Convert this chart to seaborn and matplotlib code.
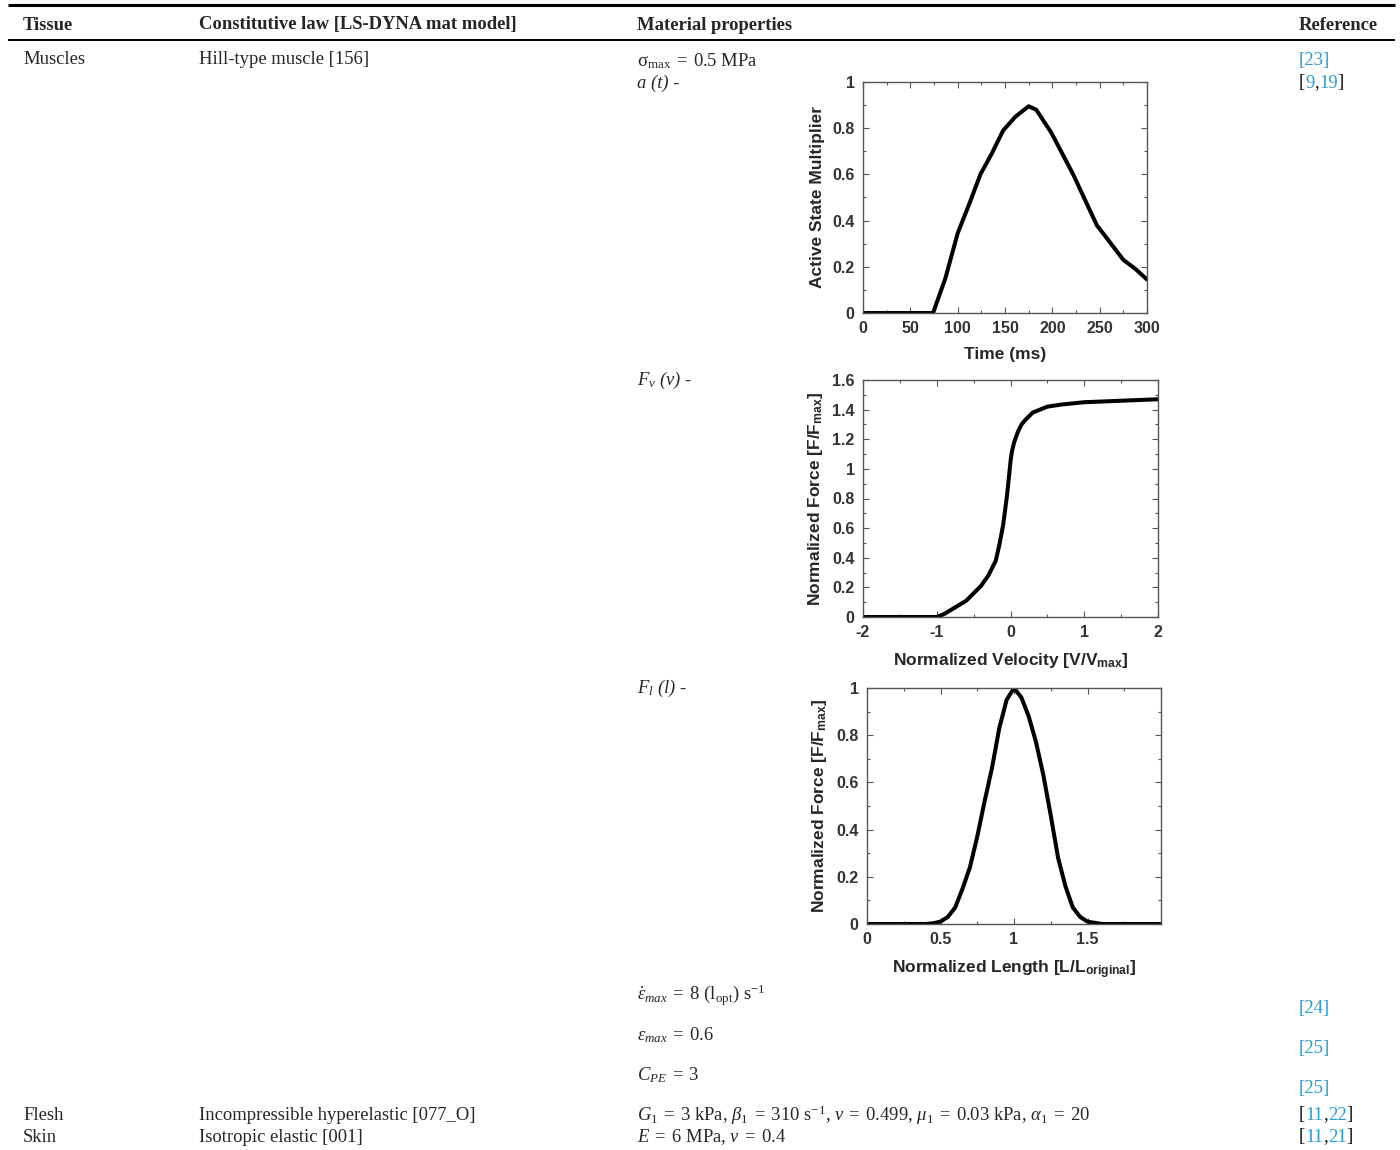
import matplotlib
matplotlib.use("Agg")
import matplotlib.pyplot as plt
from matplotlib.ticker import MultipleLocator
import seaborn as sns

# ── Curve data ───────────────────────────────────────────────────────────────

time_ms      = [0, 25, 50, 74, 87, 100, 113, 124, 136, 148, 161, 175,
                183, 199, 222, 247, 262, 275, 288, 300]
active_state = [0, 0, 0, 0, 0.15, 0.345, 0.48, 0.60, 0.69, 0.79, 0.85, 0.895,
                0.88, 0.78, 0.60, 0.38, 0.30, 0.23, 0.19, 0.145]

velocity = [-2, -1.5, -1.0, -0.9, -0.8, -0.7, -0.6, -0.5, -0.4, -0.3, -0.2,
            -0.15, -0.1, -0.05, -0.02, 0.0, 0.02, 0.05, 0.1, 0.15, 0.2, 0.3,
            0.4, 0.5, 0.7, 1.0, 1.5, 2.0]
force_v  = [0, 0, 0, 0.02, 0.05, 0.08, 0.11, 0.16, 0.21, 0.28, 0.38,
            0.49, 0.62, 0.81, 0.95, 1.05, 1.12, 1.18, 1.25, 1.30, 1.33, 1.38,
            1.40, 1.42, 1.435, 1.45, 1.46, 1.47]

length  = [0, 0.4, 0.45, 0.5, 0.55, 0.6, 0.65, 0.7, 0.75, 0.8, 0.85, 0.9,
           0.95, 1.0, 1.05, 1.1, 1.15, 1.2, 1.25, 1.3, 1.35, 1.4, 1.45,
           1.5, 1.6, 2.0]
force_l = [0, 0, 0.003, 0.01, 0.03, 0.07, 0.15, 0.24, 0.37, 0.52, 0.66, 0.83,
           0.95, 1.0, 0.96, 0.88, 0.77, 0.63, 0.46, 0.28, 0.16, 0.07, 0.03,
           0.01, 0, 0]

# ── Table text ───────────────────────────────────────────────────────────────

EQ = "\u2004=\u2004"
headers  = ["Tissue", "Constitutive law [LS-DYNA mat model]", "Material properties", "Reference"]
tissues  = ["Muscles", "Flesh", "Skin"]
laws     = ["Hill-type muscle [156]", "Incompressible hyperelastic [077_O]", "Isotropic elastic [001]"]
muscle_props = [
    r"σ$_{\mathrm{max}}$" + EQ + "0.5 MPa",
    r"$\dot{\varepsilon}_{max}$" + EQ + r"8 (l$_{\mathrm{opt}}$) s$^{-1}$",
    r"$\varepsilon_{max}$" + EQ + "0.6",
    r"$C_{PE}$" + EQ + "3",
]
curve_labels = ["a (t) -", r"F$_{\mathit{v}}$ (v) -", r"F$_{\mathit{l}}$ (l) -"]
flesh_props = (r"$G_{\mathit{1}}$" + EQ + r"3 kPa, $\beta_{\mathit{1}}$" + EQ + r"310 s$^{-1}$, "
               r"$\nu$" + EQ + r"0.499, $\mu_{\mathit{1}}$" + EQ + r"0.03 kPa, $\alpha_{\mathit{1}}$"
               + EQ + "20")
skin_props = r"$E$" + EQ + r"6 MPa, $\nu$" + EQ + "0.4"

BLUE, BLACK = "#2a9bd6", "#111111"
references = [
    [("[23]", BLUE)],
    [("[", BLACK), ("9", BLUE), (",", BLACK), ("19", BLUE), ("]", BLACK)],
    [("[24]", BLUE)],
    [("[25]", BLUE)],
    [("[25]", BLUE)],
    [("[", BLACK), ("11", BLUE), (",", BLACK), ("22", BLUE), ("]", BLACK)],
    [("[", BLACK), ("11", BLUE), (",", BLACK), ("21", BLUE), ("]", BLACK)],
]

# ── Style ────────────────────────────────────────────────────────────────────

sns.set_style("ticks")
plt.rcParams["font.family"] = ["Liberation Serif", "DejaVu Serif"]
plt.rcParams["mathtext.fontset"] = "custom"
plt.rcParams["mathtext.rm"] = "Liberation Serif"
plt.rcParams["mathtext.it"] = "Liberation Serif:italic"
plt.rcParams["mathtext.bf"] = "Liberation Serif:bold"
plt.rcParams["mathtext.sf"] = "Liberation Sans:bold"

TXT = 13.4
SANS = ["Liberation Sans", "DejaVu Sans"]
DY = 2  # small downward nudge for table text

fig = plt.figure(figsize=(14, 11.5), dpi=100)

# background axes in pixel coordinates for the table
bg = fig.add_axes([0, 0, 1, 1])
bg.set_xlim(0, 1400)
bg.set_ylim(1150, 0)
bg.axis("off")

bg.plot([8, 1395], [5, 5], color="black", lw=2.2, solid_capstyle="butt")
bg.plot([8, 1395], [40, 40], color="black", lw=1.4, solid_capstyle="butt")

col_x = [23, 199, 637, 1299]
for x, h in zip(col_x, headers):
    bg.text(x, 23 + DY, h, fontsize=TXT, fontweight="bold", va="center", ha="left")

row_y = [58, 1114, 1135]
for y, t, law in zip(row_y, tissues, laws):
    bg.text(col_x[0], y + DY, t, fontsize=TXT, va="center")
    bg.text(col_x[1], y + DY, law, fontsize=TXT, va="center")

bg.text(col_x[2], 59 + DY, muscle_props[0], fontsize=TXT, va="center")
for y, s in zip([993, 1033, 1073], muscle_props[1:]):
    bg.text(col_x[2], y + DY, s, fontsize=TXT, va="center")
for y, s in zip([81, 378, 686], curve_labels):
    bg.text(col_x[2], y + DY, s, fontsize=TXT, va="center", fontstyle="italic")
bg.text(col_x[2], 1113 + DY, flesh_props, fontsize=TXT, va="center")
bg.text(col_x[2], 1135 + DY, skin_props, fontsize=TXT, va="center")

ref_y = [58, 81, 1006, 1046, 1086, 1113, 1135]
for y, parts in zip(ref_y, references):
    prev = None
    for s, c in parts:
        if prev is None:
            prev = bg.text(col_x[3], y + DY, s, fontsize=TXT, color=c, va="center")
        else:
            prev = bg.annotate(s, xy=(1, 0), xycoords=prev, fontsize=TXT,
                               color=c, va="bottom", ha="left")


# ── Embedded curve plots ─────────────────────────────────────────────────────

def px_axes(left, top, right, bottom):
    W, H = 1400, 1150
    return fig.add_axes([left / W, 1 - bottom / H, (right - left) / W, (bottom - top) / H])


def fmt(v, pos):
    return f"{v:g}"


def style_curve_axes(ax, xmajor, xminor, ymajor, yminor, xlabel, ylabel):
    for sp in ax.spines.values():
        sp.set_visible(True)
        sp.set_color("#555555")
        sp.set_linewidth(1.0)
    ax.xaxis.set_major_locator(MultipleLocator(xmajor))
    ax.xaxis.set_minor_locator(MultipleLocator(xminor))
    ax.yaxis.set_major_locator(MultipleLocator(ymajor))
    ax.yaxis.set_minor_locator(MultipleLocator(yminor))
    ax.xaxis.set_major_formatter(fmt)
    ax.yaxis.set_major_formatter(fmt)
    ax.tick_params(which="both", direction="in", top=True, right=True,
                   color="#555555", width=0.8)
    ax.tick_params(which="major", length=4, labelsize=11.5, labelcolor="#333333", pad=6)
    ax.tick_params(which="minor", length=2)
    ax.set_xlabel(xlabel, fontsize=12.5, fontweight="bold", family=SANS, labelpad=8)
    ax.set_ylabel(ylabel, fontsize=12.5, fontweight="bold", family=SANS, labelpad=5)
    ax.set_facecolor("white")


def bold_ticks(ax):
    for lab in ax.get_xticklabels() + ax.get_yticklabels():
        lab.set_fontfamily(SANS)
        lab.set_fontweight("bold")


ax1 = px_axes(863, 82, 1147, 313)
sns.lineplot(x=time_ms, y=active_state, ax=ax1, color="black", lw=2.9)
ax1.set_xlim(0, 300)
ax1.set_ylim(0, 1)
style_curve_axes(ax1, 50, 25, 0.2, 0.1, "Time (ms)", "Active State Multiplier")
bold_ticks(ax1)

ax2 = px_axes(863, 380, 1158, 617)
sns.lineplot(x=velocity, y=force_v, ax=ax2, color="black", lw=2.9)
ax2.set_xlim(-2, 2)
ax2.set_ylim(0, 1.6)
style_curve_axes(ax2, 1, 0.5, 0.2, 0.1,
                 r"Normalized Velocity [V/V$_{\mathsf{max}}$]",
                 r"Normalized Force [F/F$_{\mathsf{max}}$]")
bold_ticks(ax2)

ax3 = px_axes(867, 688, 1161, 924)
sns.lineplot(x=length, y=force_l, ax=ax3, color="black", lw=2.9)
ax3.set_xlim(0, 2)
ax3.set_ylim(0, 1)
style_curve_axes(ax3, 0.5, 0.25, 0.2, 0.1,
                 r"Normalized Length [L/L$_{\mathsf{original}}$]",
                 r"Normalized Force [F/F$_{\mathsf{max}}$]")
ax3.set_xticks([0, 0.5, 1, 1.5])
bold_ticks(ax3)

fig.savefig("out.png", dpi=100)
plt.close(fig)
